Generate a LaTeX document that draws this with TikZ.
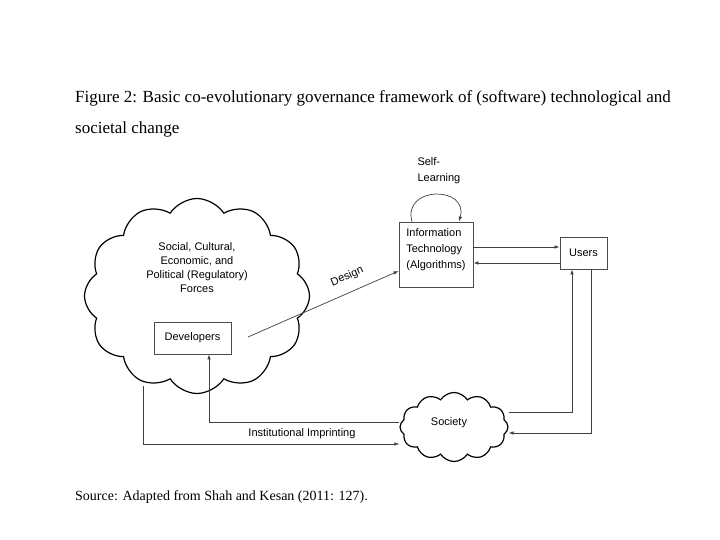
\documentclass[tikz,border=0pt]{standalone}
\usepackage{fontspec}
\setmainfont{Liberation Serif}
\newfontfamily\diagfont{Liberation Sans}
\usetikzlibrary{arrows.meta,positioning,shapes.symbols,calc}

\begin{document}
\begin{tikzpicture}[
    x=1pt,y=-1pt,
    box/.style={draw=black!70,line width=0.8pt,inner sep=2pt,font=\diagfont\fontsize{11}{16}\selectfont},
    puff/.style={cloud,draw,line width=1.2pt,cloud puffs=12,cloud puff arc=115,cloud ignores aspect,inner sep=0pt},
    lbl/.style={font=\diagfont\fontsize{11}{14}\selectfont,align=center},
    arr/.style={-{Latex[length=5pt,width=3.5pt]},line width=0.7pt,draw=black!75}
]
\useasboundingbox[fill=white] (0,0) rectangle (720,540);

% caption above and below
\node[anchor=north west,align=left,inner sep=0pt,font=\fontsize{17}{31}\selectfont] (title) at (75,90)
    {Figure 2: Basic co-evolutionary governance framework of (software) technological and\\societal change};
\node[anchor=base west,inner sep=0pt,font=\fontsize{14}{17}\selectfont] (source) at (75,500)
    {Source: Adapted from Shah and Kesan (2011: 127).};

% clouds
\node[puff,minimum width=225pt,minimum height=195pt] (forces) at (197,296) {};
\node[lbl] (forcestext) at (197,268) {Social, Cultural,\\Economic, and\\Political (Regulatory)\\Forces};
\node[puff,minimum width=108pt,minimum height=69pt] (soc) at (454,427) {};
\node[lbl] (soctext) at (449,423) {Society};

% boxes
\node[box,minimum width=77pt,minimum height=32pt] (dev) at (192.5,338) {Developers};
\node[box,minimum width=74pt,minimum height=65pt,align=left,text depth=12pt] (it) at (436,254.5) {Information\\Technology\\(Algorithms)};
\node[box,minimum width=47pt,minimum height=32pt] (users) at (583.5,253) {Users};
\node[lbl,align=left,anchor=west,font=\diagfont\fontsize{11}{16}\selectfont] (self) at (414,171) {Self-\\Learning};

% connectors
\coordinate (dsrc) at (248,337);
\draw[arr] (dsrc) -- (it.west |- 0,271)
    node[pos=0.7,above=10pt,sloped,lbl,inner sep=0pt] (design) {Design};
\draw[arr] ([xshift=-24pt]it.north) .. controls +(-10,-36) and +(10,-36) .. ([xshift=23pt]it.north);
\draw[arr] (it.east |- 0,247) -- (users.west |- 0,247);
\draw[arr] (users.west |- 0,263) -- (it.east |- 0,263);
\draw[arr] (soc.east |- 0,412) -| ([xshift=-11.5pt]users.south);
\draw[arr] ([xshift=7.5pt]users.south) |- (soc.east |- 0,433);
\draw[arr] (soc.west |- 0,422) -| ([xshift=16.5pt]dev.south);
\draw[arr] (143,386) |- (soc.west |- 0,444)
    node[pos=0.81,above=5pt,lbl,inner sep=0pt] (imprint) {Institutional Imprinting};
\end{tikzpicture}
\end{document}
